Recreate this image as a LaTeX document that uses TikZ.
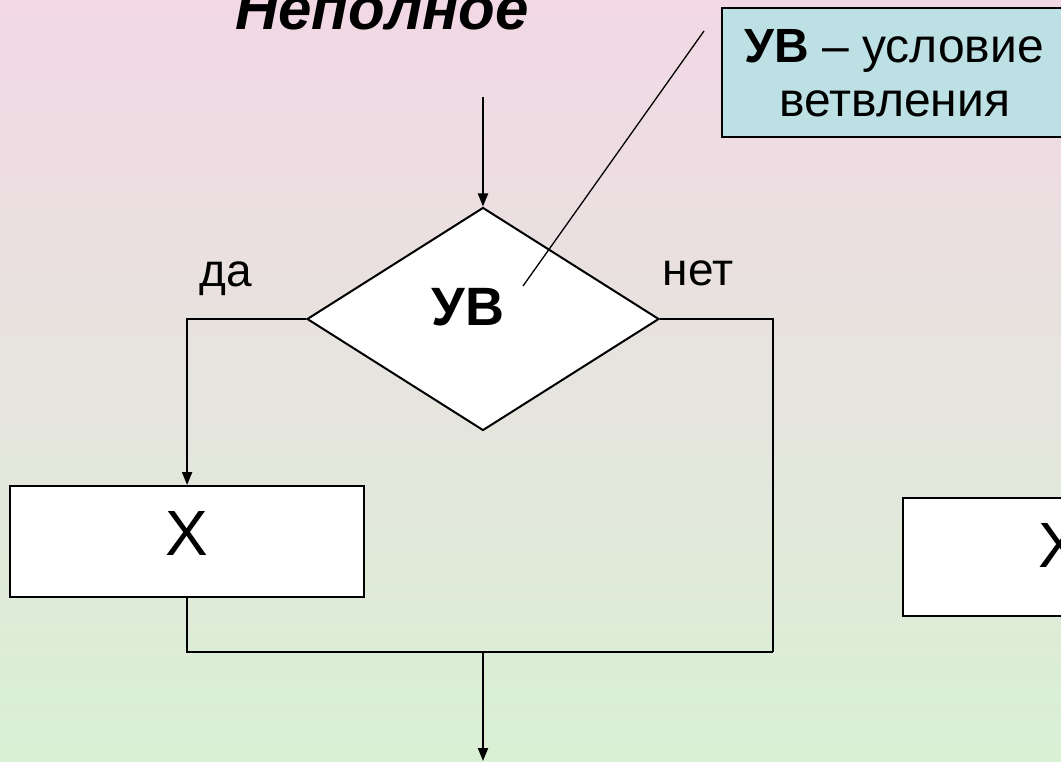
\documentclass[tikz,border=0pt]{standalone}
\usepackage{fontspec}
\setmainfont{Liberation Sans}
\usetikzlibrary{arrows.meta,shapes.geometric}
\definecolor{bgtop}{RGB}{242,216,229}
\definecolor{bgmid}{RGB}{230,228,222}
\definecolor{bgbot}{RGB}{217,240,212}
\definecolor{callfill}{RGB}{188,224,228}
\tikzset{
  line/.style={line width=2pt, black},
  arr/.style={line, -{Triangle[length=13pt,width=10pt]}},
  procbox/.style={draw=black, line width=2.2pt, fill=white, rectangle, inner sep=0pt},
  decision/.style={draw=black, line width=2pt, fill=white, diamond, inner sep=0pt},
  lbl/.style={inner sep=0pt, anchor=base, font=\fontsize{46}{50}\selectfont},
}
\begin{document}
\begin{tikzpicture}[x=1pt,y=-1pt]
\useasboundingbox (0,0) rectangle (1061,762);
\shade[top color=bgtop, bottom color=bgbot, middle color=bgmid] (0,0) rectangle (1061,762);
\clip (0,0) rectangle (1061,762);
% title
\node[inner sep=0pt, anchor=base, font=\fontsize{60}{64}\selectfont\bfseries\itshape] (title) at (382,30) {Неполное};
% callout
\node[draw=black, line width=2pt, fill=callfill, rectangle, inner sep=0pt, minimum width=348pt, minimum height=129pt, anchor=north west] (call) at (721,7) {};
\node[inner sep=0pt, anchor=base, font=\fontsize{48}{52}\selectfont] (callA) at (894,63) {\textbf{УВ} – условие};
\node[inner sep=0pt, anchor=base, font=\fontsize{48}{52}\selectfont] (callB) at (895,117) {ветвления};
% decision
\node[decision, minimum width=352pt, minimum height=223pt] (dia) at (483,319) {};
\node[inner sep=0pt, anchor=base, font=\fontsize{54}{58}\selectfont\bfseries] (uv) at (468,325) {УВ};
\node[lbl] (da) at (226,287) {да};
\node[lbl] (net) at (698,286) {нет};
% boxes
\node[procbox, minimum width=354pt, minimum height=111pt, anchor=north west] (box) at (9,485) {};
\node[inner sep=0pt, anchor=base, font=\fontsize{64}{68}\selectfont] (xl) at (186.5,555) {X};
\node[procbox, minimum width=316pt, minimum height=118pt, anchor=north west] (box2) at (902,497) {};
\node[inner sep=0pt, anchor=base, font=\fontsize{64}{68}\selectfont] (xr) at (1060,567) {X};
% coordinates
\coordinate (in) at (483,97);
\coordinate (jr) at (773,652);
\coordinate (jm) at (483,652);
\coordinate (out) at (483,761);
\coordinate (cs) at (704,31);
\coordinate (ce) at (523,286);
% connectors
\draw[arr] (in) -- (dia.north);
\draw[arr] (dia.west) -| (box.north);
\draw[line] (dia.east) -| (jr);
\draw[line] (box.south) |- (jr);
\draw[arr] (jm) -- (out);
\draw[line, line width=1.3pt] (cs) -- (ce);
\end{tikzpicture}
\end{document}
